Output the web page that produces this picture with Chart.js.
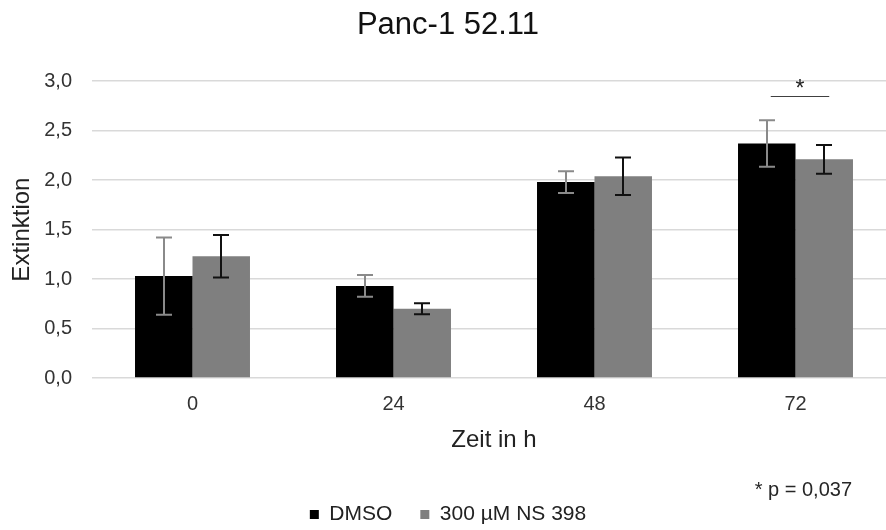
<!DOCTYPE html>
<html>
<head>
<meta charset="utf-8">
<script src="https://cdn.jsdelivr.net/npm/chart.js@4.4.0/dist/chart.umd.min.js"></script>
<style>
  html, body { margin: 0; padding: 0; overflow: hidden; background: #fff; }
  #wrap { width: 900px; height: 535px; }
</style>
</head>
<body>
<div id="wrap"><canvas id="extinktionChart" width="900" height="535"></canvas></div>
<script>
// timepoints in hours
const zeitLabels = ["0", "24", "48", "72"];

// mean extinction values and their standard deviations
const dmsoMean = [1.03, 0.93, 1.98, 2.37];
const dmsoSd = [0.39, 0.11, 0.11, 0.235];
const nsMean = [1.23, 0.70, 2.04, 2.21];
const nsSd = [0.215, 0.055, 0.19, 0.145];

// significance bracket over the 72 h group
const sigIndex = 3;
const sigLevel = 2.85;
const pNote = "* p = 0,037";

const textFont = "'Liberation Sans', Arial, sans-serif";
const errColors = ["#8a8a8a", "#111111"];
const errSets = [dmsoSd, nsSd];

const errorBars = {
  id: "errorBars",
  afterDatasetsDraw(chart) {
    const ctx = chart.ctx;
    const y = chart.scales.y;
    ctx.save();
    ctx.lineWidth = 2;
    chart.data.datasets.forEach((ds, i) => {
      const meta = chart.getDatasetMeta(i);
      ctx.strokeStyle = errColors[i];
      ds.data.forEach((v, j) => {
        const x = Math.round(meta.data[j].x);
        const top = y.getPixelForValue(v + errSets[i][j]);
        const bot = y.getPixelForValue(v - errSets[i][j]);
        ctx.beginPath();
        ctx.moveTo(x, top);
        ctx.lineTo(x, bot);
        ctx.moveTo(x - 8, top);
        ctx.lineTo(x + 8, top);
        ctx.moveTo(x - 8, bot);
        ctx.lineTo(x + 8, bot);
        ctx.stroke();
      });
    });

    // bracket and star
    const a = chart.getDatasetMeta(0).data[sigIndex].x + 4;
    const b = chart.getDatasetMeta(1).data[sigIndex].x + 5;
    const ly = Math.round(y.getPixelForValue(sigLevel)) + 0.5;
    ctx.strokeStyle = "#404040";
    ctx.lineWidth = 1;
    ctx.beginPath();
    ctx.moveTo(a, ly);
    ctx.lineTo(b, ly);
    ctx.stroke();
    ctx.fillStyle = "#222";
    ctx.font = "23px " + textFont;
    ctx.textAlign = "center";
    ctx.textBaseline = "alphabetic";
    ctx.fillText("*", (a + b) / 2, ly - 1);

    // p value note
    ctx.font = "20px " + textFont;
    ctx.textAlign = "right";
    ctx.textBaseline = "middle";
    ctx.fillStyle = "#262626";
    ctx.fillText(pNote, 852, 490);
    ctx.restore();
  }
};

new Chart(document.getElementById("extinktionChart"), {
  type: "bar",
  data: {
    labels: zeitLabels,
    datasets: [
      {
        label: "DMSO",
        data: dmsoMean,
        backgroundColor: "#000000",
        borderWidth: 0
      },
      {
        label: "300 µM NS 398",
        data: nsMean,
        backgroundColor: "#7f7f7f",
        borderWidth: 0
      }
    ]
  },
  options: {
    responsive: false,
    animation: false,
    devicePixelRatio: 1,
    layout: { padding: { left: 0, right: 4, top: 0, bottom: 0 } },
    datasets: {
      bar: { barPercentage: 1, categoryPercentage: 0.572 }
    },
    scales: {
      x: {
        afterFit(scale) { scale.height = 98; },
        grid: { display: false, drawTicks: false },
        border: { display: false },
        ticks: { color: "#333", font: { family: textFont, size: 20 }, padding: 14 },
        title: {
          display: true,
          text: "Zeit in h",
          color: "#222",
          font: { family: textFont, size: 24 },
          padding: { top: 4, bottom: 21 }
        }
      },
      y: {
        min: 0,
        max: 3,
        afterFit(scale) { scale.width = 92; },
        grid: { color: "#d9d9d9", lineWidth: 1.5, drawTicks: false },
        border: { display: false },
        ticks: {
          stepSize: 0.5,
          padding: 20,
          color: "#333",
          font: { family: textFont, size: 20 },
          callback: (v) => v.toFixed(1).replace(".", ",")
        },
        title: {
          display: true,
          text: "Extinktion",
          color: "#222",
          font: { family: textFont, size: 24 },
          padding: { top: 8, bottom: 0 }
        }
      }
    },
    plugins: {
      title: {
        display: true,
        text: "Panc-1 52.11",
        color: "#111",
        font: { family: textFont, size: 31, weight: "normal" },
        padding: { top: 7, bottom: 37 }
      },
      legend: {
        position: "bottom",
        labels: {
          boxWidth: 9,
          boxHeight: 9,
          padding: 28,
          color: "#222",
          font: { family: textFont, size: 21 }
        }
      },
      tooltip: { enabled: false }
    }
  },
  plugins: [errorBars]
});
</script>
</body>
</html>
